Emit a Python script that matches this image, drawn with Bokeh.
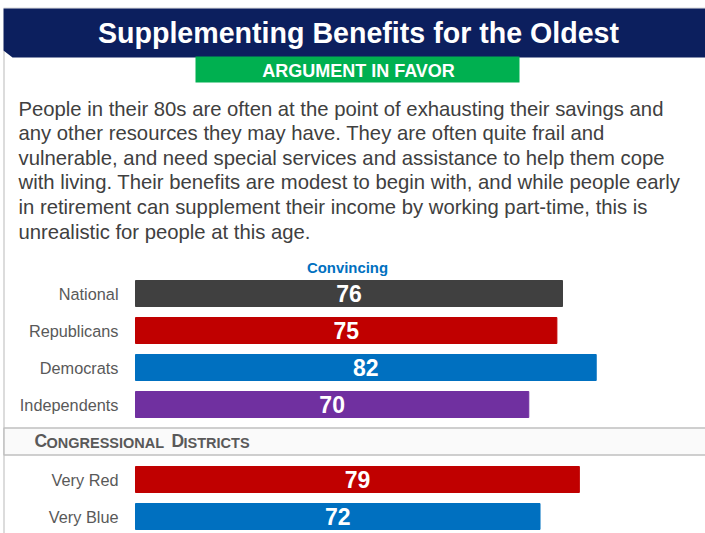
from bokeh.plotting import figure
from bokeh.models import Range1d, ColumnDataSource
from bokeh.core.properties import value
from bokeh.embed import file_html
from bokeh.resources import INLINE

# ---------------- data ----------------
title = "Supplementing Benefits for the Oldest"
banner = "ARGUMENT IN FAVOR"
paragraph = [
    "People in their 80s are often at the point of exhausting their savings and",
    "any other resources they may have. They are often quite frail and",
    "vulnerable, and need special services and assistance to help them cope",
    "with living. Their benefits are modest to begin with, and while people early",
    "in retirement can supplement their income by working part-time, this is",
    "unrealistic for people at this age.",
]
series_name = "Convincing"
groups = ["National", "Republicans", "Democrats", "Independents"]
group_values = [76, 75, 82, 70]
group_colors = ["#404040", "#c00000", "#0070c0", "#7030a0"]
section_title = ["C", "ONGRESSIONAL", "D", "ISTRICTS"]
districts = ["Very Red", "Very Blue"]
district_values = [79, 72]
district_colors = ["#c00000", "#0070c0"]

# ---------------- layout helpers ----------------
FONT = "Liberation Sans"
W, H = 705, 533
BAR0 = 135.0          # page x of value 0
S = 427.0 / 76.0      # pixels per unit
def X(px):
    return (px - BAR0) / S

p = figure(width=W, height=H, output_backend="svg", toolbar_location=None,
           x_range=Range1d(X(0), X(W)), y_range=Range1d(H, 0),
           min_border=0, min_border_left=0, min_border_right=0,
           min_border_top=0, min_border_bottom=0)
p.axis.visible = False
p.grid.visible = False
p.outline_line_color = None
p.background_fill_color = "white"
p.border_fill_color = "white"

# frame lines
p.segment(x0=[X(3.5)], y0=[50], x1=[X(3.5)], y1=[540], line_color="#d0d0d0", line_width=1.5)
p.segment(x0=[X(3)], y0=[7.5], x1=[X(710)], y1=[7.5], line_color="#d8d8d8", line_width=1)

# header band with bevel
p.patch(x=[X(3), X(710), X(710), X(12), X(3)], y=[8, 8, 57, 57, 50],
        fill_color="#0c1f5e", line_color=None)
p.text(x=[X(358)], y=[32], text=[title], text_font=value(FONT), text_font_style="bold",
       text_font_size="28.6px", text_color="white", text_align="center", text_baseline="middle")

# green banner
p.quad(left=[X(195)], right=[X(519)], top=[56], bottom=[82],
       fill_color="#00b050", line_color=None)
p.text(x=[X(358)], y=[70], text=[banner], text_font=value(FONT), text_font_style="bold",
       text_font_size="18px", text_color="white", text_align="center", text_baseline="middle")

# paragraph
p.text(x=[X(18)] * len(paragraph), y=[108 + 24.6 * i for i in range(len(paragraph))],
       text=paragraph, text_font=value(FONT), text_font_size="20.3px",
       text_color="#404040", text_align="left", text_baseline="middle")

# series title
p.text(x=[X(347)], y=[267], text=[series_name], text_font=value(FONT), text_font_style="bold",
       text_font_size="14.9px", text_color="#0070c0", text_align="center", text_baseline="middle")

def draw_bars(names, vals, colors, y_top):
    ys = [y_top + 37 * i for i in range(len(names))]
    src = ColumnDataSource(dict(y=ys, v=vals, c=colors, n=names,
                                mid=[v / 2 for v in vals], lab=[str(v) for v in vals]))
    p.hbar(y="y", left=0, right="v", height=26, fill_color="c", line_color="c", source=src)
    p.text(x="mid", y="y", text="lab", source=src, text_font=value(FONT),
           text_font_style="bold", text_font_size="23px", text_color="white",
           text_align="center", text_baseline="middle")
    p.text(x=X(118), y="y", text="n", source=src, text_font=value(FONT),
           text_font_size="16.3px", text_color="#595959", text_align="right",
           text_baseline="middle")

draw_bars(groups, group_values, group_colors, 293)

# section header box
p.quad(left=[X(3.5)], right=[X(710)], top=[427.5], bottom=[454.5],
       fill_color="#fafafa", line_color="#c0c0c0", line_width=1.5)
sizes = ["17.5px", "14.5px", "17.5px", "14.5px"]
xs = [34, 46, 171, 183]
for t, s, xx in zip(section_title, sizes, xs):
    p.text(x=[X(xx)], y=[450], text=[t], text_font=value(FONT), text_font_style="bold",
           text_font_size=s, text_color="#595959", text_align="left",
           text_baseline="bottom")

draw_bars(districts, district_values, district_colors, 479)

open("out.html", "w").write(file_html(p, INLINE))
